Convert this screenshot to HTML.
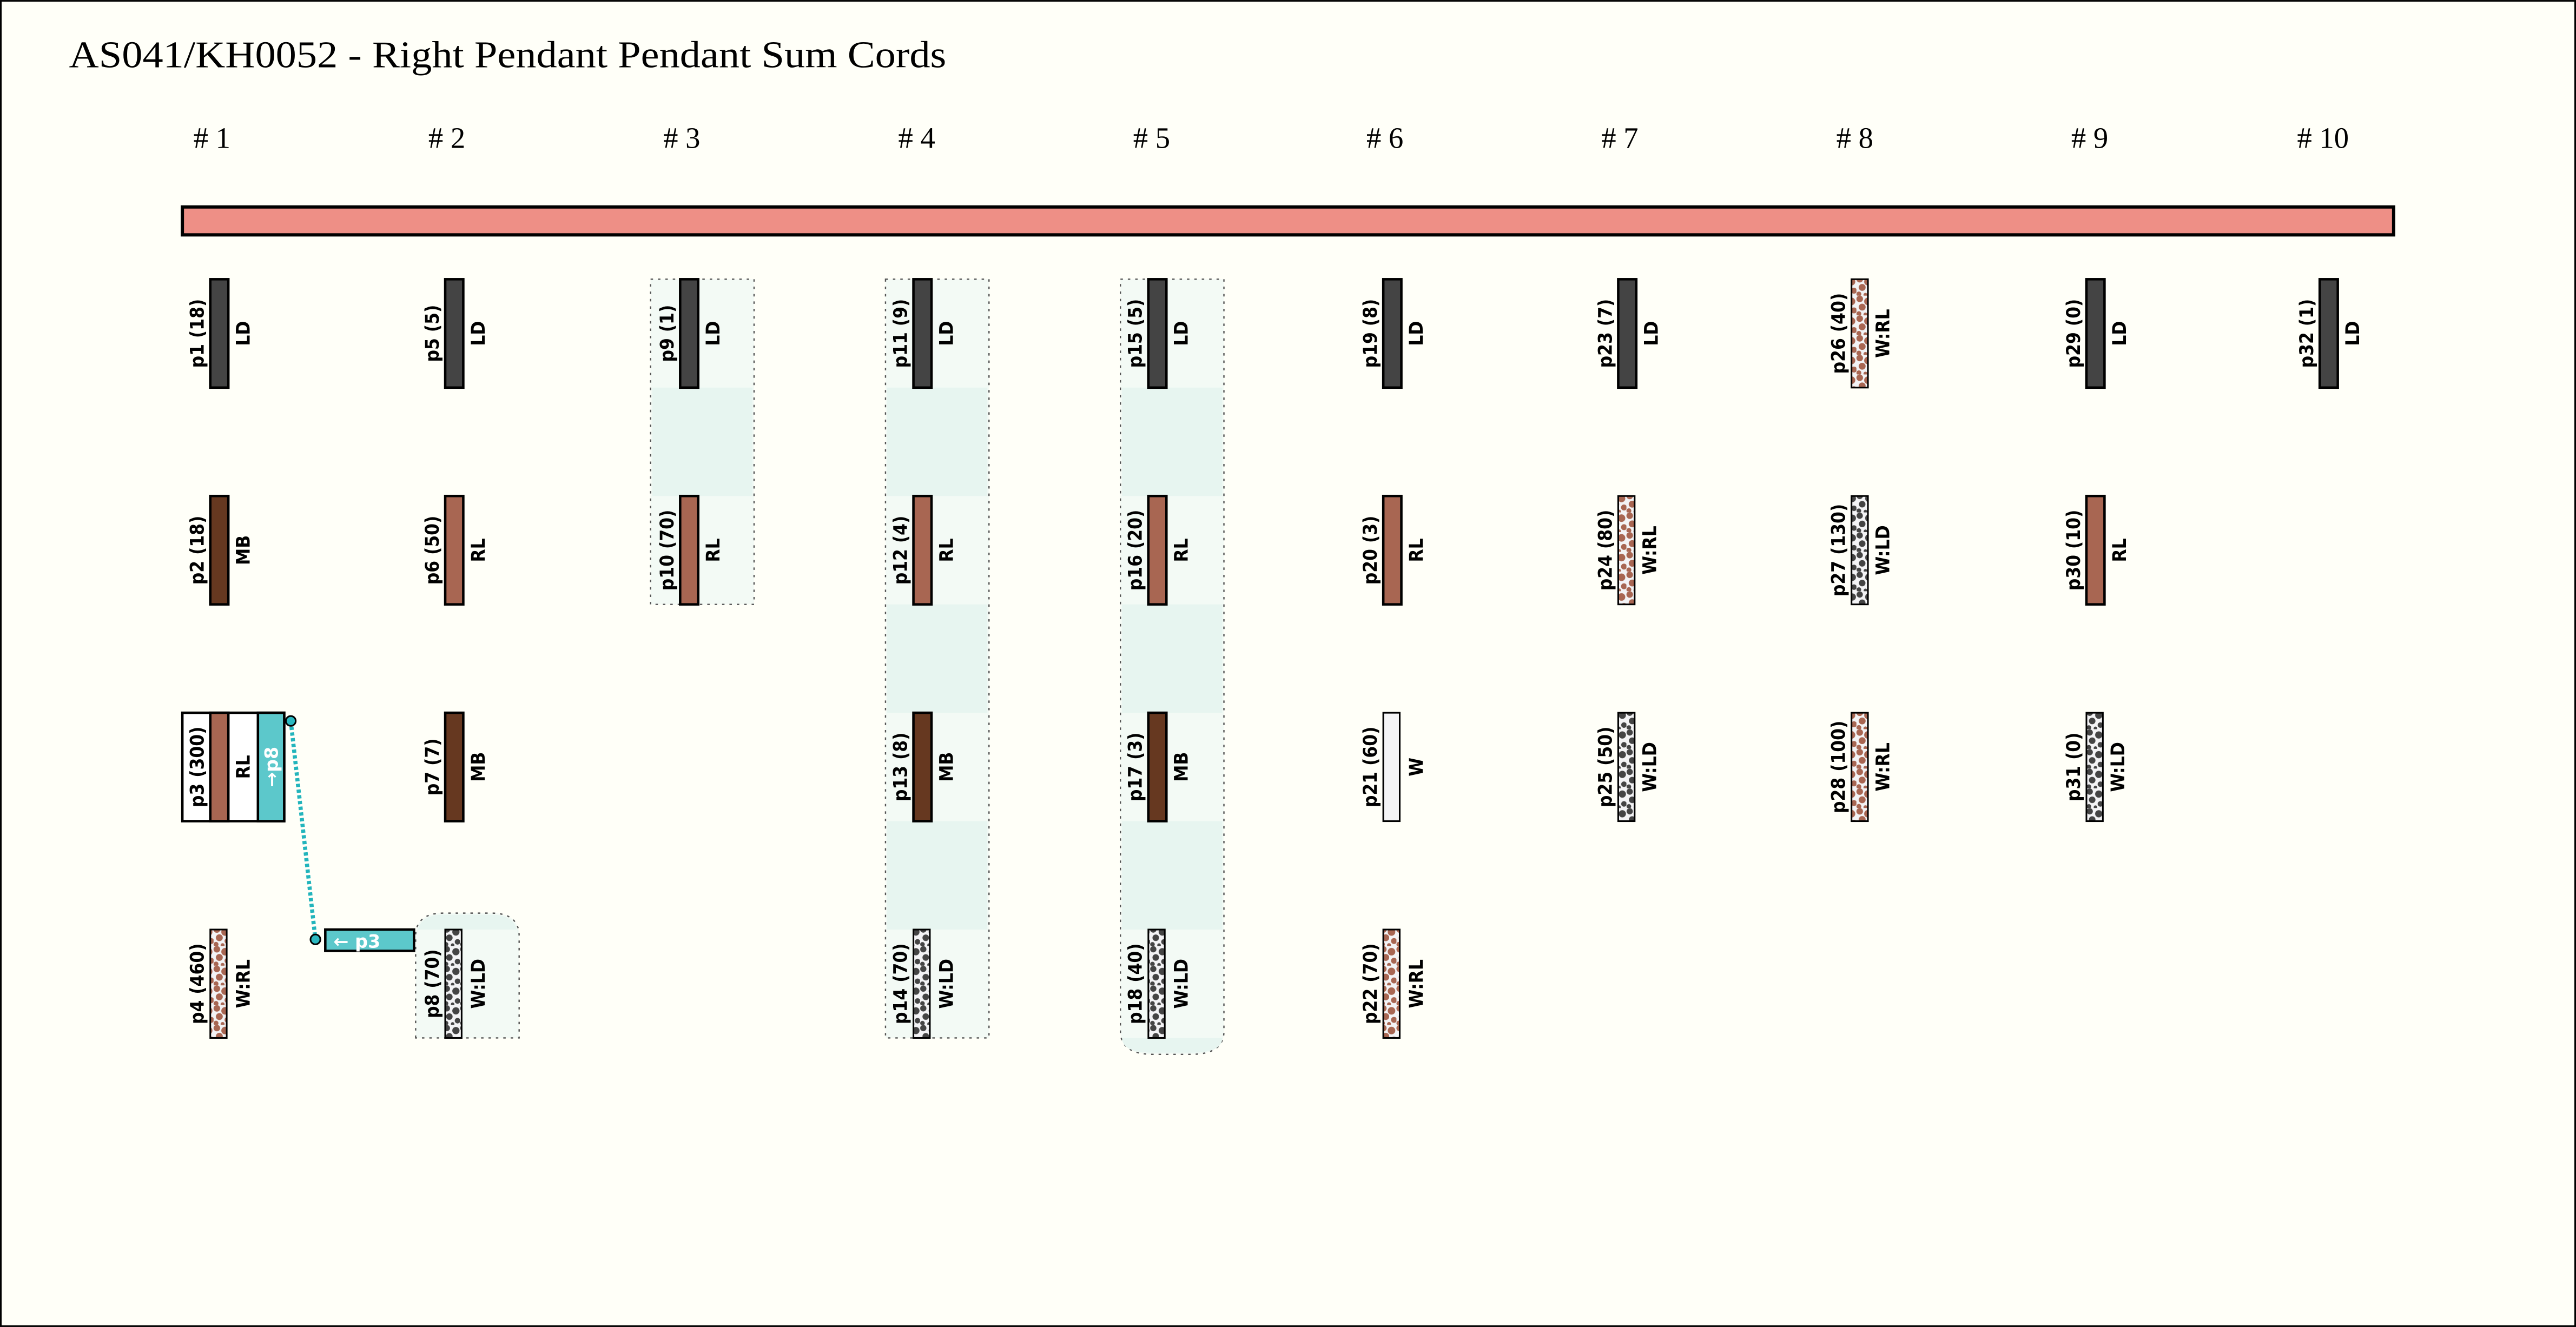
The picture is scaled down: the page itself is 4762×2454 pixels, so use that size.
<!DOCTYPE html>
<html><head><meta charset="utf-8"><style>html,body{margin:0;padding:0;background:#fffff8}svg{display:block}</style></head><body>
<svg width="4762" height="2454" viewBox="0 0 1568 808" xmlns="http://www.w3.org/2000/svg">
<defs>
<pattern id="wrl" width="10" height="12" patternUnits="userSpaceOnUse">
<rect width="10" height="12" fill="#f3f3f5"/>
<g fill="#a86652"><circle cx="2" cy="2" r="2"/><circle cx="7" cy="3.5" r="2.3"/><circle cx="3.5" cy="7" r="2.1"/><circle cx="8.5" cy="9" r="1.8"/><circle cx="1.5" cy="11" r="1.5"/><circle cx="5.5" cy="11.5" r="1.2"/></g>
</pattern>
<pattern id="wld" width="10" height="12" patternUnits="userSpaceOnUse">
<rect width="10" height="12" fill="#f3f3f5"/>
<g fill="#444"><circle cx="2" cy="2" r="1.9"/><circle cx="7.5" cy="3.5" r="2.2"/><circle cx="3.5" cy="7" r="2"/><circle cx="8.5" cy="9.5" r="1.7"/><circle cx="1.5" cy="11" r="1.4"/><circle cx="5.5" cy="11.5" r="1.1"/></g>
</pattern>
</defs>
<rect x="0.5" y="0.5" width="1567" height="807" fill="#fffff8" stroke="#000" stroke-width="1"/>
<text x="42" y="41" font-family="Liberation Serif, serif" font-size="23" textLength="534" lengthAdjust="spacingAndGlyphs" fill="#000">AS041/KH0052 - Right Pendant Pendant Sum Cords</text>
<g font-family="Liberation Serif, serif" font-size="18" text-anchor="middle" fill="#000">
<text x="129" y="90"># 1</text><text x="272" y="90"># 2</text><text x="415" y="90"># 3</text><text x="558" y="90"># 4</text><text x="701" y="90"># 5</text><text x="843" y="90"># 6</text><text x="986" y="90"># 7</text><text x="1129" y="90"># 8</text><text x="1272" y="90"># 9</text><text x="1414" y="90"># 10</text>
</g>
<rect x="111" y="126" width="1346" height="17" fill="#ee8f86" stroke="#000" stroke-width="2"/>
<g stroke="#555" stroke-width="0.8" stroke-dasharray="1.5,3">
<rect x="396" y="170" width="63" height="198" fill="#f3faf5"/>
<rect x="539" y="170" width="63" height="462" fill="#f3faf5"/>
<path d="M682 170 H745 V628 Q745 642 725 642 H702 Q682 642 682 628 Z" fill="#f3faf5"/>
<path d="M253 632 V570 Q253 556 270 556 H299 Q316 556 316 570 V632 Z" fill="#f3faf5"/>
</g>
<g fill="#e7f5f0">
<rect x="397" y="236" width="61" height="66"/>
<rect x="540" y="236" width="61" height="66"/><rect x="540" y="368" width="61" height="66"/><rect x="540" y="500" width="61" height="66"/>
<rect x="683" y="236" width="61" height="66"/><rect x="683" y="368" width="61" height="66"/><rect x="683" y="500" width="61" height="66"/>
<path d="M683 632 H744 Q744 641 725 641 H702 Q683 641 683 632Z"/>
<path d="M254 566 V570 Q254 557 270 557 H299 Q315 557 315 570 V566Z"/>
</g>
<g stroke="#000" stroke-width="1.5">
<rect x="128" y="170" width="11" height="66" fill="#444"/>
<rect x="128" y="302" width="11" height="66" fill="#663820"/>
<rect x="128" y="566" width="10" height="66" fill="url(#wrl)" stroke-width="1"/>
<rect x="271" y="170" width="11" height="66" fill="#444"/>
<rect x="271" y="302" width="11" height="66" fill="#a86652"/>
<rect x="271" y="434" width="11" height="66" fill="#663820"/>
<rect x="271" y="566" width="10" height="66" fill="url(#wld)" stroke-width="1"/>
<rect x="414" y="170" width="11" height="66" fill="#444"/>
<rect x="414" y="302" width="11" height="66" fill="#a86652"/>
<rect x="556" y="170" width="11" height="66" fill="#444"/>
<rect x="556" y="302" width="11" height="66" fill="#a86652"/>
<rect x="556" y="434" width="11" height="66" fill="#663820"/>
<rect x="556" y="566" width="10" height="66" fill="url(#wld)" stroke-width="1"/>
<rect x="699" y="170" width="11" height="66" fill="#444"/>
<rect x="699" y="302" width="11" height="66" fill="#a86652"/>
<rect x="699" y="434" width="11" height="66" fill="#663820"/>
<rect x="699" y="566" width="10" height="66" fill="url(#wld)" stroke-width="1"/>
<rect x="842" y="170" width="11" height="66" fill="#444"/>
<rect x="842" y="302" width="11" height="66" fill="#a86652"/>
<rect x="842" y="434" width="10" height="66" fill="#f4f4f6" stroke-width="1"/>
<rect x="842" y="566" width="10" height="66" fill="url(#wrl)" stroke-width="1"/>
<rect x="985" y="170" width="11" height="66" fill="#444"/>
<rect x="985" y="302" width="10" height="66" fill="url(#wrl)" stroke-width="1"/>
<rect x="985" y="434" width="10" height="66" fill="url(#wld)" stroke-width="1"/>
<rect x="1127" y="170" width="10" height="66" fill="url(#wrl)" stroke-width="1"/>
<rect x="1127" y="302" width="10" height="66" fill="url(#wld)" stroke-width="1"/>
<rect x="1127" y="434" width="10" height="66" fill="url(#wrl)" stroke-width="1"/>
<rect x="1270" y="170" width="11" height="66" fill="#444"/>
<rect x="1270" y="302" width="11" height="66" fill="#a86652"/>
<rect x="1270" y="434" width="10" height="66" fill="url(#wld)" stroke-width="1"/>
<rect x="1412" y="170" width="11" height="66" fill="#444"/>
<rect x="111" y="434" width="62" height="66" fill="#fff"/>
<rect x="128" y="434" width="11" height="66" fill="#a86652"/>
<rect x="157" y="434" width="16" height="66" fill="#5cc8cb"/>
<rect x="198" y="566" width="54" height="13" fill="#5cc8cb"/>
</g>
<line x1="177" y1="439" x2="192" y2="572" stroke="#22b4bc" stroke-width="2.5" stroke-dasharray="2,1.5"/>
<circle cx="177" cy="439" r="3" fill="#2bb8c0" stroke="#000" stroke-width="1"/>
<circle cx="192" cy="572" r="3" fill="#2bb8c0" stroke="#000" stroke-width="1"/>
<text x="203" y="577" font-family="DejaVu Sans, sans-serif" font-weight="bold" font-size="11" fill="#fff">← p3</text>
<text transform="translate(169,467) rotate(-90)" text-anchor="middle" font-family="DejaVu Sans, sans-serif" font-weight="bold" font-size="11" fill="#fff">→p8</text>
<g font-family="DejaVu Sans Condensed, DejaVu Sans, sans-serif" font-weight="bold" font-size="11.5" text-anchor="middle" fill="#000">
<text transform="translate(124,203) rotate(-90)">p1 (18)</text><text transform="translate(152,203) rotate(-90)">LD</text>
<text transform="translate(124,335) rotate(-90)">p2 (18)</text><text transform="translate(152,335) rotate(-90)">MB</text>
<text transform="translate(124,467) rotate(-90)">p3 (300)</text><text transform="translate(152,467) rotate(-90)">RL</text>
<text transform="translate(124,599) rotate(-90)">p4 (460)</text><text transform="translate(152,599) rotate(-90)">W:RL</text>
<text transform="translate(267,203) rotate(-90)">p5 (5)</text><text transform="translate(295,203) rotate(-90)">LD</text>
<text transform="translate(267,335) rotate(-90)">p6 (50)</text><text transform="translate(295,335) rotate(-90)">RL</text>
<text transform="translate(267,467) rotate(-90)">p7 (7)</text><text transform="translate(295,467) rotate(-90)">MB</text>
<text transform="translate(267,599) rotate(-90)">p8 (70)</text><text transform="translate(295,599) rotate(-90)">W:LD</text>
<text transform="translate(410,203) rotate(-90)">p9 (1)</text><text transform="translate(438,203) rotate(-90)">LD</text>
<text transform="translate(410,335) rotate(-90)">p10 (70)</text><text transform="translate(438,335) rotate(-90)">RL</text>
<text transform="translate(552,203) rotate(-90)">p11 (9)</text><text transform="translate(580,203) rotate(-90)">LD</text>
<text transform="translate(552,335) rotate(-90)">p12 (4)</text><text transform="translate(580,335) rotate(-90)">RL</text>
<text transform="translate(552,467) rotate(-90)">p13 (8)</text><text transform="translate(580,467) rotate(-90)">MB</text>
<text transform="translate(552,599) rotate(-90)">p14 (70)</text><text transform="translate(580,599) rotate(-90)">W:LD</text>
<text transform="translate(695,203) rotate(-90)">p15 (5)</text><text transform="translate(723,203) rotate(-90)">LD</text>
<text transform="translate(695,335) rotate(-90)">p16 (20)</text><text transform="translate(723,335) rotate(-90)">RL</text>
<text transform="translate(695,467) rotate(-90)">p17 (3)</text><text transform="translate(723,467) rotate(-90)">MB</text>
<text transform="translate(695,599) rotate(-90)">p18 (40)</text><text transform="translate(723,599) rotate(-90)">W:LD</text>
<text transform="translate(838,203) rotate(-90)">p19 (8)</text><text transform="translate(866,203) rotate(-90)">LD</text>
<text transform="translate(838,335) rotate(-90)">p20 (3)</text><text transform="translate(866,335) rotate(-90)">RL</text>
<text transform="translate(838,467) rotate(-90)">p21 (60)</text><text transform="translate(866,467) rotate(-90)">W</text>
<text transform="translate(838,599) rotate(-90)">p22 (70)</text><text transform="translate(866,599) rotate(-90)">W:RL</text>
<text transform="translate(981,203) rotate(-90)">p23 (7)</text><text transform="translate(1009,203) rotate(-90)">LD</text>
<text transform="translate(981,335) rotate(-90)">p24 (80)</text><text transform="translate(1008,335) rotate(-90)">W:RL</text>
<text transform="translate(981,467) rotate(-90)">p25 (50)</text><text transform="translate(1008,467) rotate(-90)">W:LD</text>
<text transform="translate(1123,203) rotate(-90)">p26 (40)</text><text transform="translate(1150,203) rotate(-90)">W:RL</text>
<text transform="translate(1123,335) rotate(-90)">p27 (130)</text><text transform="translate(1150,335) rotate(-90)">W:LD</text>
<text transform="translate(1123,467) rotate(-90)">p28 (100)</text><text transform="translate(1150,467) rotate(-90)">W:RL</text>
<text transform="translate(1266,203) rotate(-90)">p29 (0)</text><text transform="translate(1294,203) rotate(-90)">LD</text>
<text transform="translate(1266,335) rotate(-90)">p30 (10)</text><text transform="translate(1294,335) rotate(-90)">RL</text>
<text transform="translate(1266,467) rotate(-90)">p31 (0)</text><text transform="translate(1293,467) rotate(-90)">W:LD</text>
<text transform="translate(1408,203) rotate(-90)">p32 (1)</text><text transform="translate(1436,203) rotate(-90)">LD</text>
</g>
</svg>
</body></html>
